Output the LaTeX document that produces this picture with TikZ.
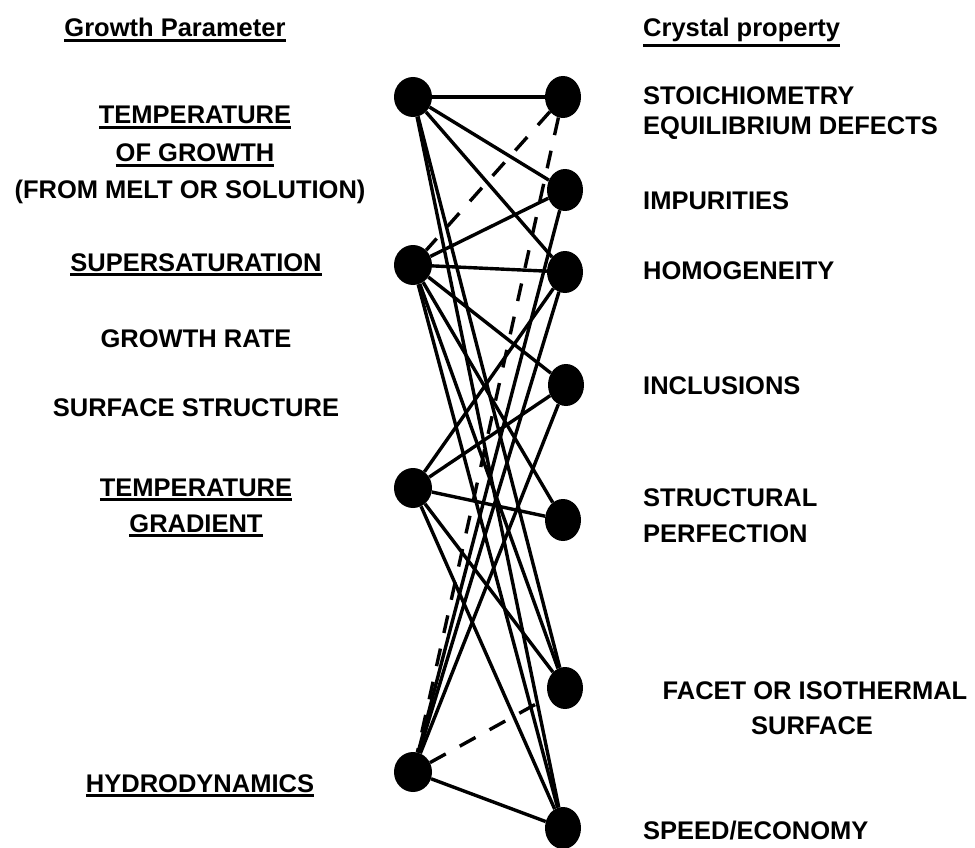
\documentclass[tikz,border=0pt]{standalone}
\usepackage{fontspec}
\usetikzlibrary{shapes.geometric}
\setmainfont{Liberation Sans}
\newcommand\ulx[1]{\vtop{\hbox{#1}\kern2pt\hrule height 2.6pt}}
\begin{document}
\begin{tikzpicture}[x=1pt,y=-1pt,
  dot/.style={ellipse,fill=black,draw=none,minimum width=38pt,minimum height=40pt,inner sep=0pt},
  rdot/.style={ellipse,fill=black,draw=none,minimum width=36pt,minimum height=42pt,inner sep=0pt},
  lab/.style={font=\fontsize{25.5}{30}\selectfont\bfseries,inner sep=0pt},
  link/.style={line width=3.4pt},
  dlink/.style={line width=3.4pt,dash pattern=on 18pt off 16pt}]
\useasboundingbox (0,0) rectangle (975,848);
% dots
\node[dot] (L1) at (413,97) {};
\node[dot] (L2) at (413,265) {};
\node[dot] (L3) at (413,488) {};
\node[dot] (L4) at (413,772) {};
\node[rdot] (R1) at (563,97) {};
\node[rdot] (R2) at (565,190) {};
\node[rdot] (R3) at (565,272) {};
\node[rdot] (R4) at (566,385) {};
\node[rdot] (R5) at (563,520) {};
\node[rdot] (R6) at (565,688) {};
\node[rdot] (R7) at (563,828) {};
% solid links
\foreach \r in {R1,R2,R3,R6,R7} \draw[link] (L1) -- (\r);
\foreach \r in {R2,R3,R4,R5,R6,R7} \draw[link] (L2) -- (\r);
\foreach \r in {R3,R4,R5,R6,R7} \draw[link] (L3) -- (\r);
\foreach \r in {R2,R3,R4,R7} \draw[link] (L4) -- (\r);
% dashed links
\draw[dlink] (R1) -- (L2);
\draw[dlink] (R1) -- (L4);
\draw[dlink] (L4) -- (R6);
% left labels
\node[lab,anchor=base] (hl) at (175,37) {\ulx{Growth Parameter}};
\node[lab,anchor=base] (a1) at (195,124) {\ulx{TEMPERATURE}};
\node[lab,anchor=base] (a2) at (195,162) {\ulx{OF GROWTH}};
\node[lab,anchor=base] (a3) at (190,199) {(FROM MELT OR SOLUTION)};
\node[lab,anchor=base] (b1) at (196,271) {\ulx{SUPERSATURATION}};
\node[lab,anchor=base] (b2) at (196,347) {GROWTH RATE};
\node[lab,anchor=base] (b3) at (196,416) {SURFACE STRUCTURE};
\node[lab,anchor=base] (c1) at (196,496) {\ulx{TEMPERATURE}};
\node[lab,anchor=base] (c2) at (196,532) {\ulx{GRADIENT}};
\node[lab,anchor=base] (d1) at (200,792) {\ulx{HYDRODYNAMICS}};
% right labels
\node[lab,anchor=base west] (hr) at (643,37) {\ulx{Crystal property}};
\node[lab,anchor=base west] (p1) at (643,105) {STOICHIOMETRY};
\node[lab,anchor=base west] (p2) at (643,135) {EQUILIBRIUM DEFECTS};
\node[lab,anchor=base west] (p3) at (643,209) {IMPURITIES};
\node[lab,anchor=base west] (p4) at (643,279) {HOMOGENEITY};
\node[lab,anchor=base west] (p5) at (643,394) {INCLUSIONS};
\node[lab,anchor=base west] (p6) at (643,506) {STRUCTURAL};
\node[lab,anchor=base west] (p7) at (643,542) {PERFECTION};
\node[lab,anchor=base] (p8) at (815,699) {FACET OR ISOTHERMAL};
\node[lab,anchor=base] (p9) at (812,734) {SURFACE};
\node[lab,anchor=base west] (p10) at (643,839) {SPEED/ECONOMY};
\end{tikzpicture}
\end{document}
